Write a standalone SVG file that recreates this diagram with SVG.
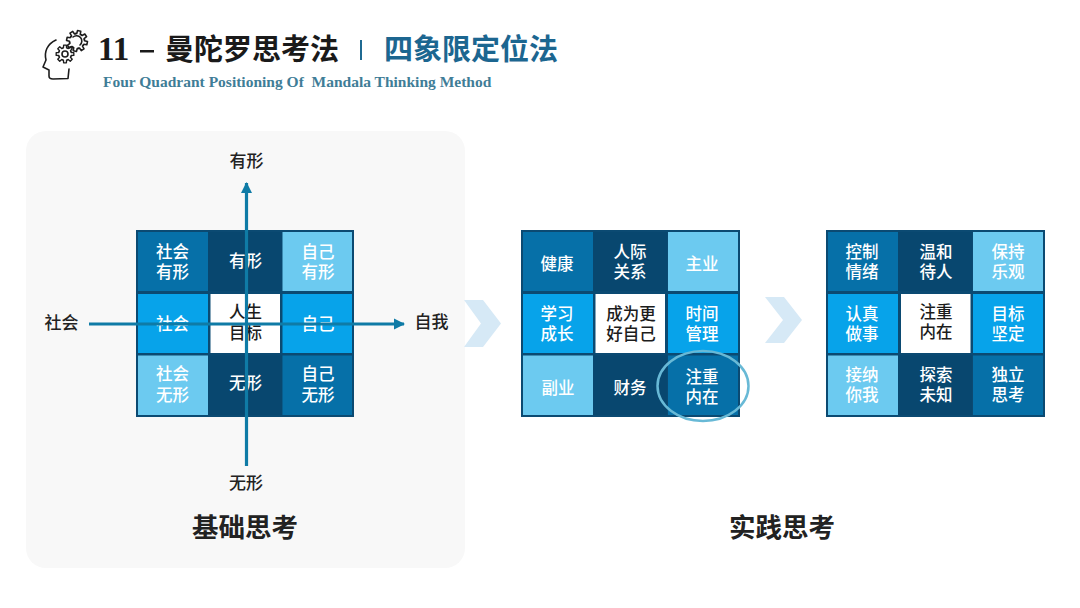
<svg xmlns="http://www.w3.org/2000/svg" width="1080" height="608" viewBox="0 0 1080 608">
<style>
text{font-family:"Noto Sans CJK SC","Noto Sans",sans-serif;text-anchor:middle}
.c{font-size:16.500px;font-weight:500;fill:#fff}
.k{fill:#1c1c1c}
.lab{font-size:17px;font-weight:500;fill:#222}
.sec{font-size:26.500px;font-weight:700;fill:#222}
.bd{fill:#0b4a72}.d{fill:#08476f}.m{fill:#0670a8}.b{fill:#07a3ea}.p{fill:#6ccaf0}.w{fill:#fff}
.ax{stroke:#0f7ba6;stroke-width:3.2;fill:none}
.ic{fill:none;stroke:#1d1d1d;stroke-width:1.600;stroke-linejoin:round;stroke-linecap:round}
</style>
<defs>
<marker id="ah" markerUnits="userSpaceOnUse" markerWidth="12" markerHeight="12" refX="10" refY="6" orient="auto"><path d="M0 0.5L11 6L0 11.5Z" fill="#0f7ba6"/></marker>
<path id="tooth" d="M6.93 -2.87L7.28 -1.81L10.37 -1.64L10.37 1.64L7.28 1.81L6.93 2.87"/>
<g id="gear">
<use href="#tooth"/><use href="#tooth" transform="rotate(45)"/><use href="#tooth" transform="rotate(90)"/><use href="#tooth" transform="rotate(135)"/><use href="#tooth" transform="rotate(180)"/><use href="#tooth" transform="rotate(225)"/><use href="#tooth" transform="rotate(270)"/><use href="#tooth" transform="rotate(315)"/>
</g>
</defs>
<rect width="1080" height="608" fill="#fff"/>
<rect id="panel" x="26" y="131" width="439" height="437" rx="20" fill="#f8f8f8"/>
<g id="header">
<g id="icon" class="ic">
<path d="M56 40C47 44 44 52 46 60L43 67L49 70L49 76Q49 79 53 79L68 78.500L69 69"/>
<use href="#gear" transform="translate(77 41) rotate(12)"/>
<path d="M73 37A5 5 0 1 1 80 45"/>
<use href="#gear" transform="translate(65 54) scale(.85)"/>
<circle cx="65" cy="54" r="3"/>
</g>
<text x="98" y="60" style="text-anchor:start;font-family:'Liberation Serif',serif;font-size:33px;font-weight:700;fill:#1a1a1a">11</text>
<rect x="140" y="50" width="14" height="2.500" fill="#1a1a1a"/>
<text x="165" y="60" style="text-anchor:start;font-size:29px;font-weight:700;fill:#1a1a1a">曼陀罗思考法</text>
<rect x="360" y="40" width="2" height="20" fill="#1f6a92"/>
<text x="384" y="60" style="text-anchor:start;font-size:29px;font-weight:700;fill:#1c6690">四象限定位法</text>
<text x="103" y="87" style="text-anchor:start;font-family:'Liberation Serif',serif;font-size:15.500px;font-weight:700;fill:#3f7d97" xml:space="preserve">Four Quadrant Positioning Of  Mandala Thinking Method</text>
</g>
<g id="grid-basic">
<rect class="bd" x="136" y="230" width="218" height="187"/>
<g id="b1"><rect class="m" x="138" y="232" width="70" height="59"/><text class="c" x="172.500" y="258">社会</text><text class="c" x="172.500" y="278">有形</text></g>
<g id="b2"><rect class="d" x="208" y="232" width="74" height="59"/><text class="c" x="245.500" y="267">有形</text></g>
<g id="b3"><rect class="p" x="282.500" y="232" width="69.500" height="59"/><text class="c" x="318" y="258">自己</text><text class="c" x="318" y="278">有形</text></g>
<g id="b4"><rect class="b" x="138" y="294" width="70" height="59"/><text class="c" x="172.500" y="330">社会</text></g>
<g id="b5"><rect class="w" x="210.500" y="294" width="69.500" height="59"/><text class="c k" x="245.500" y="318">人生</text><text class="c k" x="245.500" y="339">目标</text></g>
<g id="b6"><rect class="b" x="282.500" y="294" width="69.500" height="59"/><text class="c" x="318" y="330">自己</text></g>
<g id="b7"><rect class="p" x="138" y="355.500" width="70" height="59.500"/><text class="c" x="172.500" y="380">社会</text><text class="c" x="172.500" y="401">无形</text></g>
<g id="b8"><rect class="d" x="208" y="355.500" width="74" height="59.500"/><text class="c" x="245.500" y="389">无形</text></g>
<g id="b9"><rect class="m" x="282.500" y="355.500" width="69.500" height="59.500"/><text class="c" x="318" y="380">自己</text><text class="c" x="318" y="401">无形</text></g>
</g>
<g id="connectors">
<path class="ax" d="M246.500 466V183" marker-end="url(#ah)"/>
<path class="ax" d="M89 324H404" marker-end="url(#ah)"/>
</g>
<g id="axis-labels">
<text class="lab" x="246.500" y="167">有形</text>
<text class="lab" x="246" y="489">无形</text>
<text class="lab" x="61.500" y="329">社会</text>
<text class="lab" x="431.500" y="328">自我</text>
<text class="sec" x="245" y="537">基础思考</text>
<text class="sec" x="782" y="537">实践思考</text>
</g>
<g id="chevrons" fill="#d6e9f6">
<path d="M464 300H483L501 323.500L483 347H464L481 323.500Z"/>
<path d="M765 297H784L802 320L784 343H765L783 320Z"/>
</g>
<g id="grid-practice">
<rect class="bd" x="521" y="230" width="219" height="187"/>
<g id="p1"><rect class="m" x="523" y="232" width="70" height="59"/><text class="c" x="557" y="270">健康</text></g>
<g id="p2"><rect class="d" x="593" y="232" width="74" height="59"/><text class="c" x="630" y="258">人际</text><text class="c" x="630" y="278">关系</text></g>
<g id="p3"><rect class="p" x="668" y="232" width="70" height="59"/><text class="c" x="702" y="270">主业</text></g>
<g id="p4"><rect class="b" x="523" y="294" width="70" height="59"/><text class="c" x="557" y="320">学习</text><text class="c" x="557" y="340">成长</text></g>
<g id="p5"><rect class="w" x="595.500" y="294" width="69.500" height="59"/><text class="c k" x="631" y="320">成为更</text><text class="c k" x="631" y="340">好自己</text></g>
<g id="p6"><rect class="b" x="668" y="294" width="70" height="59"/><text class="c" x="702" y="320">时间</text><text class="c" x="702" y="340">管理</text></g>
<g id="p7"><rect class="p" x="523" y="355.500" width="70" height="59.500"/><text class="c" x="558" y="394">副业</text></g>
<g id="p8"><rect class="d" x="593" y="355.500" width="74" height="59.500"/><text class="c" x="630" y="394">财务</text></g>
<g id="p9"><rect class="m" x="668" y="355.500" width="70" height="59.500"/><text class="c" x="702" y="383">注重</text><text class="c" x="702" y="403">内在</text></g>
<ellipse id="highlight" cx="703" cy="386" rx="45.500" ry="35" fill="none" stroke="#68b9d6" stroke-width="2.500"/>
</g>
<g id="grid-result">
<rect class="bd" x="826" y="230" width="219" height="187"/>
<g id="r1"><rect class="m" x="828" y="232" width="70" height="59"/><text class="c" x="862" y="258">控制</text><text class="c" x="862" y="278">情绪</text></g>
<g id="r2"><rect class="d" x="898" y="232" width="74" height="59"/><text class="c" x="936" y="258">温和</text><text class="c" x="936" y="278">待人</text></g>
<g id="r3"><rect class="p" x="973" y="232" width="70" height="59"/><text class="c" x="1008" y="258">保持</text><text class="c" x="1008" y="278">乐观</text></g>
<g id="r4"><rect class="b" x="828" y="294" width="70" height="59"/><text class="c" x="862" y="320">认真</text><text class="c" x="862" y="340">做事</text></g>
<g id="r5"><rect class="w" x="901" y="294" width="69.500" height="59"/><text class="c k" x="936" y="318">注重</text><text class="c k" x="936" y="338">内在</text></g>
<g id="r6"><rect class="b" x="973" y="294" width="70" height="59"/><text class="c" x="1008" y="320">目标</text><text class="c" x="1008" y="340">坚定</text></g>
<g id="r7"><rect class="p" x="828" y="355.500" width="70" height="59.500"/><text class="c" x="862" y="381">接纳</text><text class="c" x="862" y="401">你我</text></g>
<g id="r8"><rect class="d" x="898" y="355.500" width="74" height="59.500"/><text class="c" x="936" y="381">探索</text><text class="c" x="936" y="401">未知</text></g>
<g id="r9"><rect class="m" x="973" y="355.500" width="70" height="59.500"/><text class="c" x="1008" y="381">独立</text><text class="c" x="1008" y="401">思考</text></g>
</g>
</svg>
